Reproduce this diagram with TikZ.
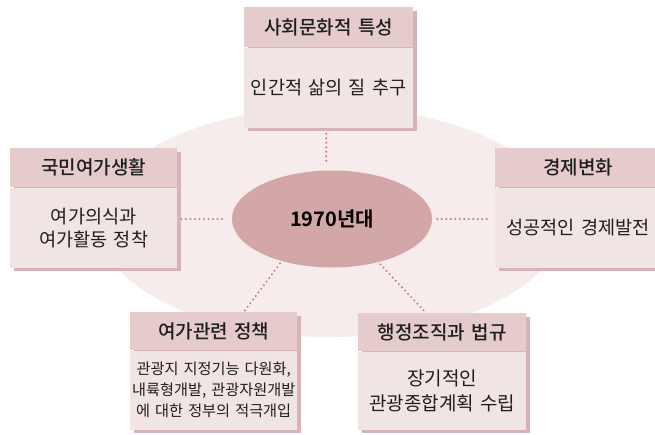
\documentclass[tikz,border=0pt]{standalone}
\usepackage{fontspec}
\setmainfont{Noto Sans CJK KR}
\newfontfamily\krmed{Noto Sans CJK KR Medium}
\newfontfamily\krbold{Noto Sans CJK KR Bold}
\usetikzlibrary{shadows,calc,shapes.geometric}
\definecolor{bgpink}{HTML}{F5ECEB}
\definecolor{hdrc}{HTML}{E6CBCC}
\definecolor{bodyc}{HTML}{F1E4E4}
\definecolor{shc}{HTML}{D7B3B5}
\definecolor{midc}{HTML}{D3A6A8}
\definecolor{dotc}{HTML}{BF7A83}
\definecolor{txt}{HTML}{1E1E1E}
\tikzset{
  boxshadow/.style={general shadow={fill=shc, shadow xshift=3.5pt, shadow yshift=-3.5pt}},
  hdr/.style={fill=hdrc, inner sep=0pt, anchor=north west, align=center, text=txt,
    font=\krmed\fontsize{19}{22}\selectfont, boxshadow},
  bdy/.style={fill=bodyc, inner sep=0pt, anchor=north, align=center, text=txt,
    font=\fontsize{18.6}{23}\selectfont, boxshadow},
  dotline/.style={dotc, line width=2.2pt, line cap=round, dash pattern=on 0pt off 4.5pt},
}
\begin{document}
\begin{tikzpicture}[x=1pt,y=-1pt]
\useasboundingbox (0,0) rectangle (655,434);
\fill[white] (0,0) rectangle (655,434);
\node[ellipse, fill=bgpink, inner sep=0pt, minimum width=464, minimum height=230] (bg) at (330,222) {};
\node[ellipse, fill=midc, inner sep=0pt, minimum width=200, minimum height=97,
  text=black, font=\krbold\fontsize{20}{22}\selectfont] (c) at (332,219) {1970년대};

% top
\node[hdr, text width=169pt, minimum height=40pt] (t) at (244,7) {사회문화적 특성};
\node[bdy, text width=169pt, minimum height=80pt] (tb) at (t.south) {인간적 삶의 질 추구};
% left
\node[hdr, text width=167pt, minimum height=39pt] (l) at (10,148) {국민여가생활};
\node[bdy, text width=167pt, minimum height=80pt] (lb) at (l.south) {여가의식과\\여가활동 정착};
% right
\node[hdr, text width=166pt, minimum height=39pt] (r) at (495,148) {경제변화};
\node[bdy, text width=166pt, minimum height=80pt] (rb) at (r.south) {성공적인 경제발전};
% bottom left
\node[hdr, text width=167pt, minimum height=38pt] (bl) at (130,312) {여가관련 정책};
\node[bdy, text width=167pt, minimum height=79pt, font=\fontsize{15.2}{21}\selectfont] (blb) at (bl.south)
  {관광지 지정기능 다원화,\\내륙형개발, 관광자원개발\\에 대한 정부의 적극개입};
% bottom right
\node[hdr, text width=168pt, minimum height=38pt] (br) at (358,313) {행정조직과 법규};
\node[bdy, text width=168pt, minimum height=78pt, font=\fontsize{19}{25}\selectfont] (brb) at (br.south)
  {장기적인\\관광종합계획 수립};

% connectors
\draw[dotline, shorten <=6pt, shorten >=5pt] ([xshift=-2.5pt]tb.south) -- ([xshift=-2.5pt]tb.south |- c.north);
\draw[dotline, shorten <=4pt, shorten >=6pt] (lb.east |- c.west) -- (c.west);
\draw[dotline, shorten <=5pt, shorten >=5pt] (c.east) -- (rb.west |- c.east);
\draw[dotline, shorten <=3pt] (c.220) -- ($(bl.north west)!0.68!(bl.north east)$);
\draw[dotline, shorten <=3pt] (c.317) -- ($(br.north west)!0.405!(br.north east)$);
\end{tikzpicture}
\end{document}
